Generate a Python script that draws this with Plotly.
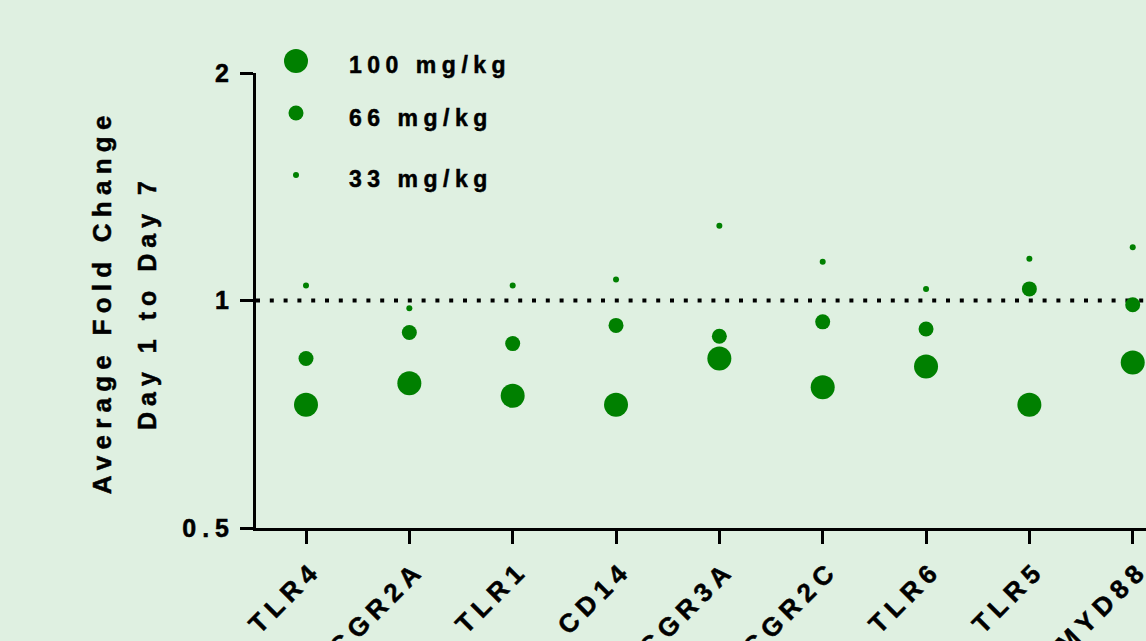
import math
import plotly.graph_objects as go

# ---------------- data ----------------
categories = ["TLR4", "FCGR2A", "TLR1", "CD14", "FCGR3A", "FCGR2C", "TLR6", "TLR5", "MYD88"]
dose_names = ["100 mg/kg", "66 mg/kg", "33 mg/kg"]
fold_100 = [0.728, 0.777, 0.748, 0.728, 0.838, 0.768, 0.818, 0.728, 0.828]
fold_66 = [0.838, 0.907, 0.877, 0.927, 0.897, 0.937, 0.917, 1.036, 0.987]
fold_33 = [1.047, 0.977, 1.047, 1.066, 1.256, 1.125, 1.036, 1.136, 1.176]
y_tick_vals = [0.5, 1, 2]
y_tick_text = ["0.5", "1", "2"]
reference_level = 1
y_title_lines = ["Average Fold Change", "Day 1 to Day 7"]

# ---------------- style ----------------
W, H = 1146, 641
ML, MR, MT, MB = 256, 0, 73, 113
PW, PH = W - ML - MR, H - MT - MB
FONT = "Liberation Sans, Arial, Helvetica, sans-serif"
GREEN = "#008000"
BG = "#DFF0E1"
marker_sizes = [24, 15, 6]
cat_step_px = 103.34
first_cat_px = 306
x_lo = -(first_cat_px - ML) / cat_step_px
x_hi = x_lo + PW / cat_step_px

def px_to_paper_x(px):
    return (px - ML) / PW

def px_to_paper_y(py):
    return (MT + PH - py) / PH

series = [fold_100, fold_66, fold_33]

fig = go.Figure()
for name, vals, size in zip(dose_names, series, marker_sizes):
    fig.add_trace(go.Scatter(
        x=categories, y=vals, mode="markers", name=name,
        marker=dict(size=size, color=GREEN, line=dict(width=0)),
        showlegend=False, cliponaxis=False,
    ))

axis_common = dict(
    showline=True, linecolor="black", linewidth=3,
    ticks="outside", ticklen=13, tickwidth=3, tickcolor="black",
    showgrid=False, zeroline=False, automargin=False,
)

shapes = [
    dict(type="line", xref="paper", yref="y", x0=0, x1=1,
         y0=reference_level, y1=reference_level, layer="below",
         line=dict(color="black", width=4, dash="4px,9.8px")),
]

annotations = []
# y-axis title (two lines)
title_centers_px = [101.5, 146.5]
title_sizes = [26, 25]
for line, cx, fs in zip(y_title_lines, title_centers_px, title_sizes):
    annotations.append(dict(
        text=line, xref="paper", yref="paper", x=0, y=0.5,
        xshift=cx - ML, yshift=-2, xanchor="center", yanchor="middle",
        textangle=-90, showarrow=False,
        font=dict(family=FONT, size=fs, color="black", weight="bold"),
    ))

# legend (marker + label)
legend_marker_px = [(296, 61), (296, 113), (296, 175)]
legend_text_px = [(348, 65), (348, 117.5), (348, 179)]
for name, size, (mx, my), (tx, ty) in zip(dose_names, marker_sizes, legend_marker_px, legend_text_px):
    shapes.append(dict(
        type="circle", xref="paper", yref="paper",
        xsizemode="pixel", ysizemode="pixel",
        xanchor=px_to_paper_x(mx), yanchor=px_to_paper_y(my),
        x0=-size / 2, x1=size / 2, y0=-size / 2, y1=size / 2,
        fillcolor=GREEN, line=dict(width=0), layer="above",
    ))
    annotations.append(dict(
        text=name, xref="paper", yref="paper",
        x=px_to_paper_x(tx), y=px_to_paper_y(ty),
        xanchor="left", yanchor="middle", align="left", showarrow=False,
        borderpad=0,
        font=dict(family=FONT, size=23, color="black", weight="bold"),
    ))

fig.update_layout(
    width=W, height=H,
    margin=dict(l=ML, r=MR, t=MT, b=MB, pad=0),
    paper_bgcolor=BG, plot_bgcolor=BG,
    showlegend=False,
    xaxis=dict(type="category", range=[x_lo, x_hi], tickangle=-45,
               ticklabelshift=8,
               tickfont=dict(family=FONT, size=26, color="black", weight="bold"),
               **axis_common),
    yaxis=dict(type="log", range=[math.log10(0.5), math.log10(2)],
               tickvals=y_tick_vals, ticktext=y_tick_text,
               tickfont=dict(family=FONT, size=25, color="black", weight="bold"),
               **axis_common),
    shapes=shapes,
    annotations=annotations,
)

post_js = """
document.documentElement.style.margin = '0';
document.body.style.margin = '0';
document.body.style.padding = '0';
document.body.style.overflow = 'hidden';
var gd = document.getElementById('{plot_id}');
gd.querySelectorAll('text').forEach(function(t){
    t.style.letterSpacing = '0.24em';
    t.style.stroke = 'black';
    t.style.strokeWidth = '0.5px';
});
"""

fig.write_html("out.html", post_script=post_js, config={"displayModeBar": False})
